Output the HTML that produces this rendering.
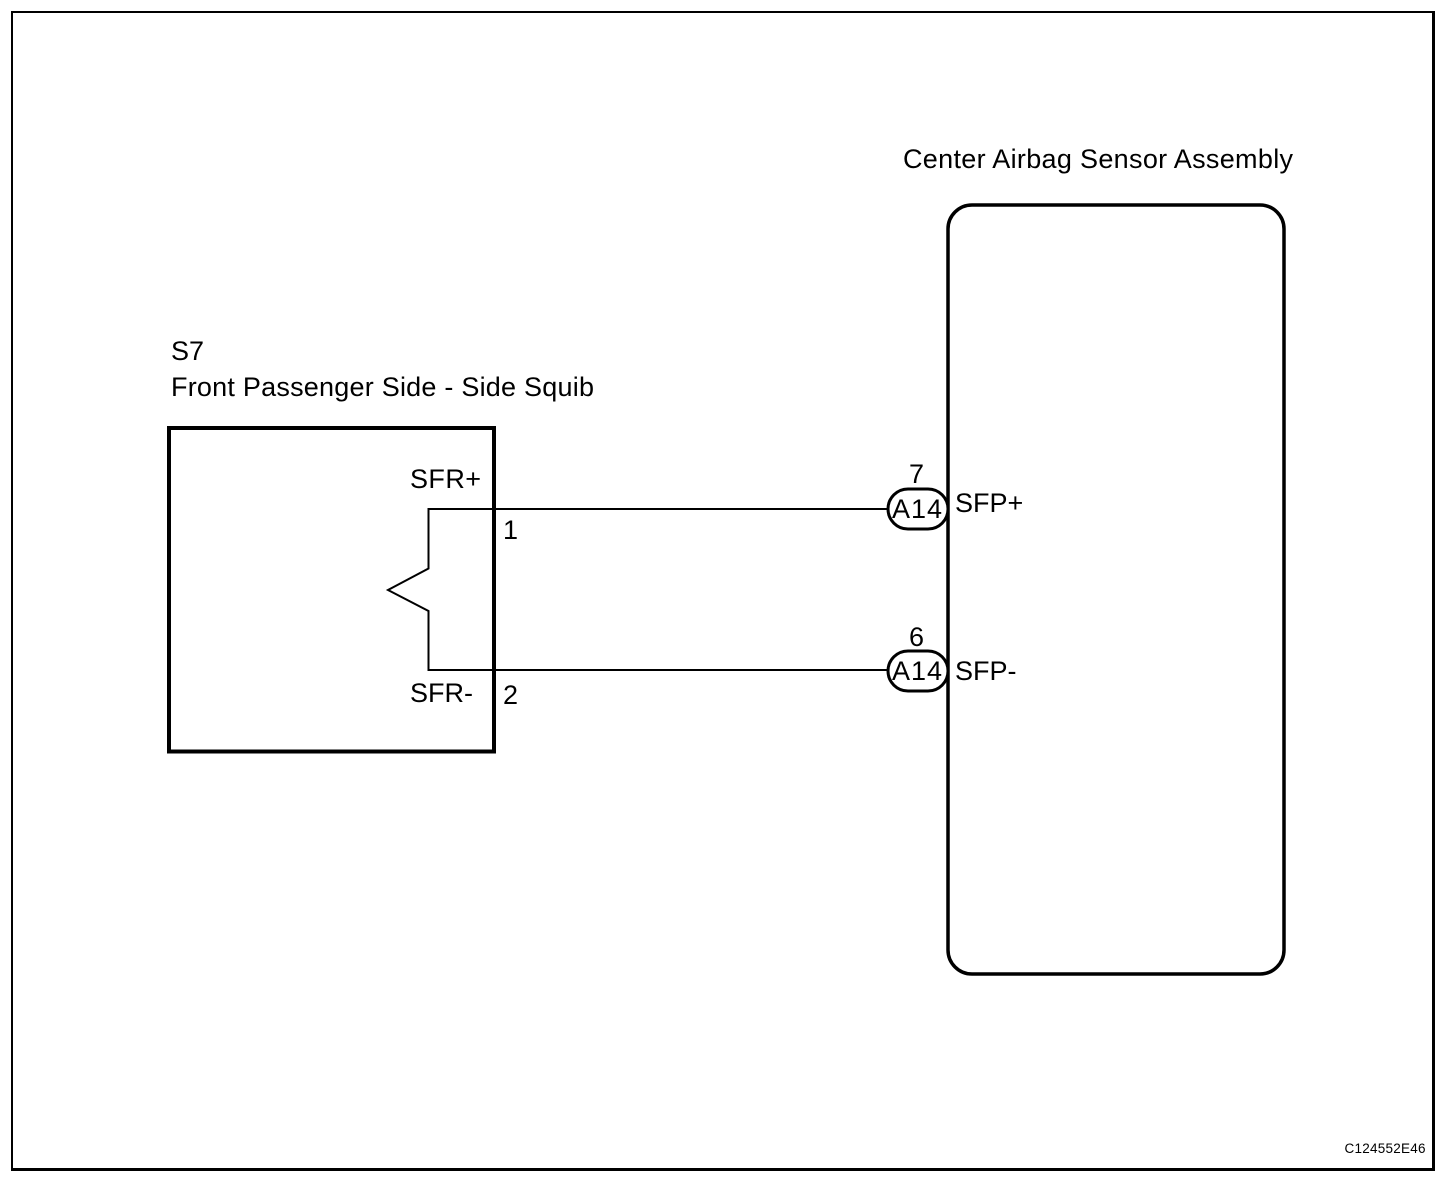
<!DOCTYPE html>
<html>
<head>
<meta charset="utf-8">
<style>
html,body{margin:0;padding:0;background:#fff;width:1456px;height:1178px;overflow:hidden}
svg{display:block}
text{font-family:"Liberation Sans",Arial,sans-serif;fill:#000;font-size:27px}
</style>
</head>
<body>
<svg width="1456" height="1178" viewBox="0 0 1456 1178" xmlns="http://www.w3.org/2000/svg">
<rect width="1456" height="1178" fill="#fff"/>
<path d="M12 1169.5V12H1433.5" fill="none" stroke="#000" stroke-width="2"/>
<path d="M1433.5 11V1169.5H11" fill="none" stroke="#000" stroke-width="3"/>
<rect x="948" y="205" width="336" height="769" rx="24" ry="24" fill="none" stroke="#000" stroke-width="3.5"/>
<rect x="169" y="428" width="325" height="323.5" fill="none" stroke="#000" stroke-width="4"/>
<path d="M888 509H428.5V568.5L388 590L428.5 611V670H888" fill="none" stroke="#000" stroke-width="2"/>
<rect x="888" y="489" width="60" height="40" rx="20" ry="20" fill="#fff" stroke="#000" stroke-width="3"/>
<rect x="888" y="651" width="60" height="40" rx="20" ry="20" fill="#fff" stroke="#000" stroke-width="3"/>
<text x="903" y="168" textLength="390" lengthAdjust="spacing">Center Airbag Sensor Assembly</text>
<text x="171" y="360">S7</text>
<text x="171" y="396" textLength="423" lengthAdjust="spacing">Front Passenger Side - Side Squib</text>
<text x="410" y="488" textLength="71" lengthAdjust="spacing">SFR+</text>
<text x="410" y="702">SFR-</text>
<text x="503" y="539">1</text>
<text x="503" y="704">2</text>
<text x="909" y="483">7</text>
<text x="909" y="646">6</text>
<text x="892" y="518" textLength="50" lengthAdjust="spacing">A14</text>
<text x="892" y="680" textLength="50" lengthAdjust="spacing">A14</text>
<text x="955" y="512">SFP+</text>
<text x="955" y="680">SFP-</text>
<text x="1344.5" y="1153" style="font-size:13.5px" textLength="81" lengthAdjust="spacing">C124552E46</text>
</svg>
</body>
</html>
